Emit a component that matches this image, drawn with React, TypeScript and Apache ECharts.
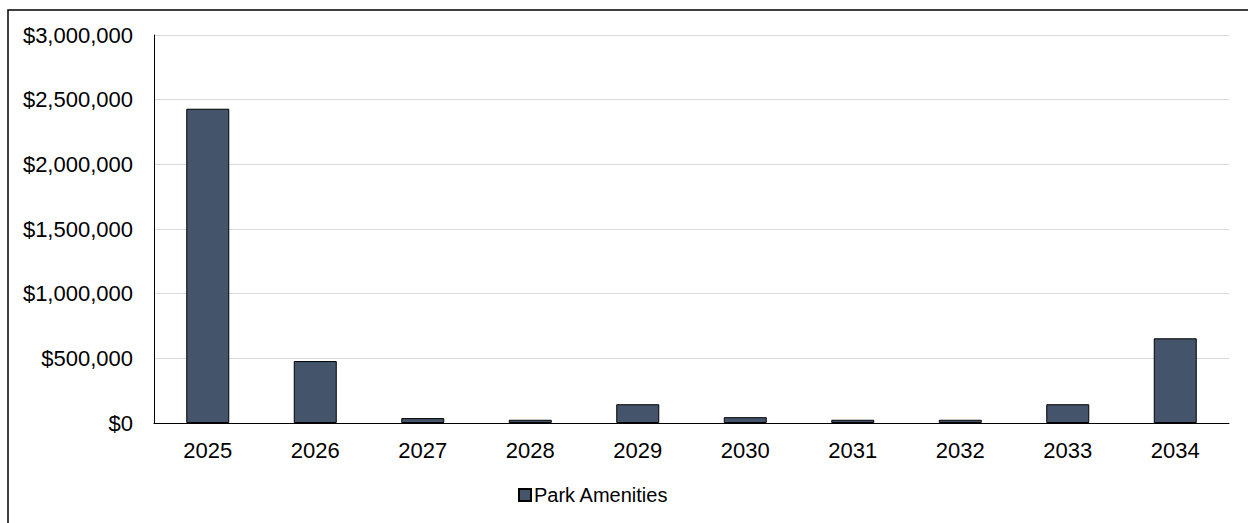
import React, { useEffect, useRef } from "react";
import * as echarts from "echarts";

// Annual spending on park amenities
const years = ["2025", "2026", "2027", "2028", "2029", "2030", "2031", "2032", "2033", "2034"];
const parkAmenities = [2430000, 479000, 38000, 25000, 145000, 45000, 25000, 25000, 145000, 655000];
const seriesName = "Park Amenities";
const yTicks = { min: 0, max: 3000000, interval: 500000 };

const FONT = "'Liberation Sans', Arial, sans-serif";

function formatDollars(v: number): string {
  return "$" + Math.round(v).toString().replace(/\B(?=(\d{3})+(?!\d))/g, ",");
}

export default function App() {
  const ref = useRef<HTMLDivElement>(null);

  useEffect(() => {
    if (!ref.current) return;
    const chart = echarts.init(ref.current, null, { renderer: "svg" });
    chart.setOption({
      animation: false,
      backgroundColor: "#ffffff",
      textStyle: { fontFamily: FONT },
      graphic: [
        {
          type: "rect",
          shape: { x: 8, y: 10, width: 1400, height: 700 },
          style: { fill: "none", stroke: "#000000", lineWidth: 1.5 },
          silent: true,
          z: -1,
        },
      ],
      grid: { left: 154, right: 19, top: 35, bottom: 100, containLabel: false },
      legend: {
        left: 513,
        top: 480,
        itemWidth: 12,
        itemHeight: 12,
        icon: "rect",
        itemGap: 10,
        textStyle: { fontFamily: FONT, fontSize: 20, color: "#000000", padding: [0, 0, 0, -2] },
        data: [seriesName],
      },
      xAxis: {
        type: "category",
        data: years,
        axisLine: { show: true, lineStyle: { color: "#000000", width: 1 } },
        axisTick: { show: false },
        axisLabel: { fontFamily: FONT, fontSize: 22, color: "#000000", margin: 16 },
      },
      yAxis: {
        type: "value",
        min: yTicks.min,
        max: yTicks.max,
        interval: yTicks.interval,
        axisLine: { show: true, lineStyle: { color: "#000000", width: 1 } },
        axisTick: { show: false },
        splitLine: { show: true, lineStyle: { color: "#d9d9d9", width: 1 } },
        axisLabel: {
          fontFamily: FONT,
          fontSize: 22,
          color: "#000000",
          margin: 21,
          formatter: (v: number) => formatDollars(v),
        },
      },
      series: [
        {
          name: seriesName,
          type: "bar",
          data: parkAmenities,
          barWidth: 43,
          itemStyle: { color: "#44546a", borderColor: "#000000", borderWidth: 1 },
        },
      ],
    });
    return () => chart.dispose();
  }, []);

  return (
    <div
      ref={ref}
      style={{ position: "fixed", left: 0, top: 0, width: 1248, height: 523 }}
    />
  );
}
